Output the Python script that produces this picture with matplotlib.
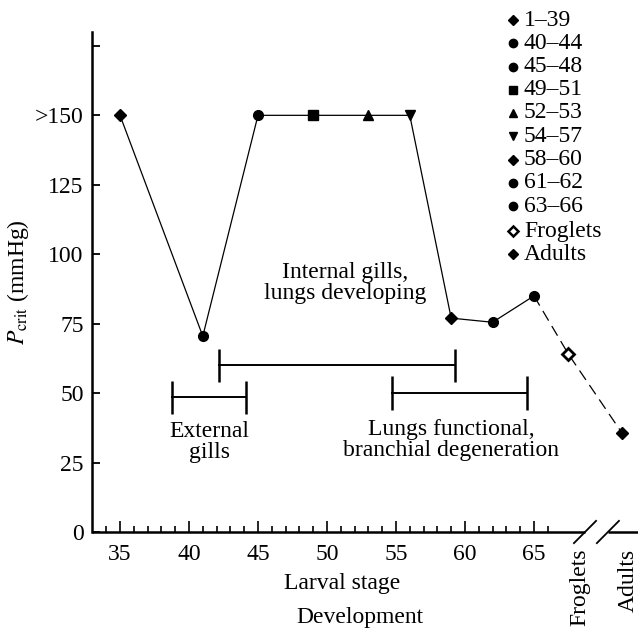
import matplotlib
matplotlib.use('Agg')
import matplotlib.pyplot as plt

# dados
stages = [35, 41, 45, 49, 53, 56, 59, 62, 65]
pcrit = [150, 70.5, 150, 150, 150, 150, 77, 75.5, 85]
stage_markers = ['D', 'o', 'o', 's', '^', 'v', 'D', 'o', 'o']

post_labels = ['Froglets', 'Adults']
post_x = [67.5, 71.4]
post_pcrit = [64, 35.5]

legend_labels = ['1–39', '40–44', '45–48', '49–51', '52–53', '54–57',
                 '58–60', '61–62', '63–66', 'Froglets', 'Adults']
legend_markers = ['D', 'o', 'o', 's', '^', 'v', 'D', 'o', 'o', 'D', 'D']

phase_text = ['External\ngills', 'Internal gills,\nlungs developing',
              'Lungs functional,\nbranchial degeneration']
phase_start = [38.8, 42.2, 54.7]
phase_end = [44.1, 59.3, 64.5]
phase_level = [48.5, 60, 50]

y_ticks = [0, 25, 50, 75, 100, 125, 150, 175]
y_ticklabels = ['0', '25', '50', '75', '100', '125', '>150', '']
x_ticks = [35, 40, 45, 50, 55, 60, 65]

plt.rcParams['font.family'] = ['Liberation Serif', 'DejaVu Serif']
plt.rcParams['mathtext.fontset'] = 'stix'
FS = 17

W, H = 638, 629
fig = plt.figure(figsize=(W / 100, H / 100), dpi=100)
ax = fig.add_axes([92 / W, 1 - 532 / H, 1 - 92 / W, 500 / H])
ax.set_xlim(32.97, 72.54)
ax.set_ylim(0, 180)

# curva principal
ax.plot(stages, pcrit, color='black', lw=0.9, zorder=2)
ax.plot([stages[-1]] + post_x, [pcrit[-1]] + post_pcrit, color='black', lw=0.9,
        dashes=(9, 5), zorder=2)
for x, y, m in zip(stages, pcrit, stage_markers):
    ax.plot(x, y, marker=m, color='black', ms=7 if m != 'D' else 6.5, zorder=3)
ax.plot(post_x[0], post_pcrit[0], marker='D', ms=6.5, mfc='white', mec='black', mew=2, zorder=3)
ax.plot(post_x[1], post_pcrit[1], marker='D', ms=6.5, color='black', zorder=3)

# barras das fases
for s, e, lv in zip(phase_start, phase_end, phase_level):
    ax.plot([s, e], [lv, lv], color='black', lw=1.4)
    ax.vlines([s, e], lv - 6, lv + 6, color='black', lw=1.8)

ax.text(41.45, 32.5, phase_text[0], ha='center', va='center', fontsize=FS, linespacing=1.0)
ax.text(51.3, 89.5, phase_text[1], ha='center', va='center', fontsize=FS, linespacing=1.0)
ax.text(59.0, 33.0, phase_text[2], ha='center', va='center', fontsize=FS, linespacing=1.0)

# eixos
for side in ['top', 'right', 'bottom']:
    ax.spines[side].set_visible(False)
ax.spines['left'].set_linewidth(1.8)
ax.plot([32.97, 68.7], [0, 0], color='black', lw=1.8, clip_on=False, solid_capstyle='butt')
ax.plot([70.36, 72.54], [0, 0], color='black', lw=1.8, clip_on=False, solid_capstyle='butt')
for bx in [68.7, 70.36]:
    ax.plot([bx - 0.8, bx + 0.8], [-4, 4], color='black', lw=1.3, clip_on=False)

ax.set_yticks(y_ticks)
ax.set_yticklabels(y_ticklabels, fontsize=FS)
ax.tick_params(axis='y', direction='in', length=6, width=1.3, pad=6)

ax.set_xticks(x_ticks)
ax.set_xticklabels([str(t) for t in x_ticks], fontsize=FS)
ax.set_xticks([t for t in range(34, 67) if t not in x_ticks], minor=True)
ax.tick_params(axis='x', which='major', direction='in', length=8, width=1.2, pad=9)
ax.tick_params(axis='x', which='minor', direction='in', length=4, width=1.2)

for lab, x in zip(post_labels, [68.3, 71.85]):
    ax.text(x, -6, lab, rotation=90, ha='center', va='top', fontsize=FS)

ax.set_ylabel(r'$P_{\rm crit}$ (mmHg)', fontsize=FS, labelpad=3)
fig.text(342 / W, 1 - 583 / H, 'Larval stage', ha='center', va='center', fontsize=FS)
fig.text(360 / W, 1 - 617 / H, 'Development', ha='center', va='center', fontsize=FS)

# legenda feita à mão
rows = [20 + i * 23.25 for i in range(9)] + [231, 254]
for lab, m, yp in zip(legend_labels, legend_markers, rows):
    if lab == 'Froglets':
        fig.lines.append(plt.Line2D([513 / W], [1 - yp / H], marker=m, ms=5.5, mfc='white',
                                    mec='black', mew=1.8, transform=fig.transFigure))
    else:
        fig.lines.append(plt.Line2D([513 / W], [1 - yp / H], marker=m, color='black',
                                    ms=6 if m != 'D' else 5.5, transform=fig.transFigure))
    fig.text(524 / W, 1 - yp / H, lab, ha='left', va='center', fontsize=FS)

plt.savefig('out.png', dpi=100)
plt.close()
